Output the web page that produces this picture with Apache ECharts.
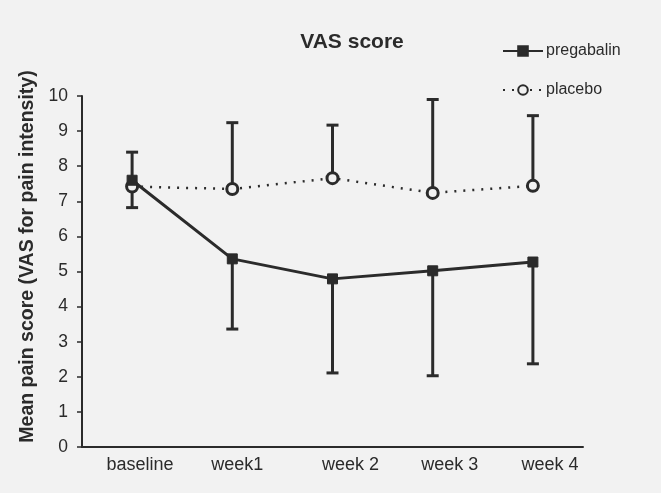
<!DOCTYPE html>
<html>
<head>
<meta charset="utf-8">
<script src="https://cdn.jsdelivr.net/npm/echarts@6/dist/echarts.min.js"></script>
<style>
  html, body { margin: 0; padding: 0; background: #f2f2f2; }
  #chart { width: 661px; height: 493px; }
</style>
</head>
<body>
<div id="chart"></div>
<script>
var weeks = ['baseline', 'week1', 'week 2', 'week 3', 'week 4'];
var pregabalin = [7.6, 5.36, 4.79, 5.02, 5.27];
var placebo = [7.42, 7.35, 7.66, 7.24, 7.44];
// end point of each drawn error bar
var pregabalinBarEnd = [8.4, 3.36, 2.11, 2.03, 2.37];
var placeboBarEnd = [6.82, 9.24, 9.17, 9.9, 9.44];

var ink = '#2b2b2b';
// the scanned labels sit a little right of their points
var labelShift = [16, 10, 36, 34, 34];

function barData(means, ends) {
    return means.map(function (m, i) { return [i, m, ends[i]]; });
}

function renderBar(params, api) {
    var p0 = api.coord([api.value(0), api.value(1)]);
    var p1 = api.coord([api.value(0), api.value(2)]);
    var cap = 6;
    return {
        type: 'group',
        children: [
            { type: 'line', shape: { x1: p0[0], y1: p0[1], x2: p1[0], y2: p1[1] },
              style: { stroke: ink, lineWidth: 3 } },
            { type: 'line', shape: { x1: p1[0] - cap, y1: p1[1], x2: p1[0] + cap, y2: p1[1] },
              style: { stroke: ink, lineWidth: 3 } }
        ]
    };
}

var myChart = echarts.init(document.getElementById('chart'));

var option = {
    backgroundColor: '#f2f2f2',
    animation: false,
    title: {
        text: 'VAS score',
        left: 347,
        textAlign: 'center',
        top: 27,
        textStyle: { fontFamily: 'Liberation Sans', fontWeight: 'bold', fontSize: 21, color: ink }
    },
    legend: {
        orient: 'vertical',
        left: 497,
        top: 38,
        itemWidth: 40,
        itemHeight: 12,
        itemGap: 23,
        data: ['pregabalin', 'placebo'],
        textStyle: { fontFamily: 'Liberation Sans', fontSize: 16, color: ink, padding: [0, 0, 0, -2] }
    },
    grid: { left: 82, right: 78, top: 96, bottom: 46 },
    xAxis: {
        type: 'category',
        data: weeks.map(function (w, i) {
            return { value: w, textStyle: { padding: [0, 0, 0, labelShift[i]] } };
        }),
        boundaryGap: true,
        axisLine: { lineStyle: { color: ink, width: 2 } },
        axisTick: { show: false },
        axisLabel: { fontFamily: 'Liberation Sans', fontSize: 18, color: ink, margin: 9 }
    },
    yAxis: {
        type: 'value',
        min: 0,
        max: 10,
        interval: 1,
        name: 'Mean pain score (VAS for pain intensity)',
        nameLocation: 'middle',
        nameGap: 43,
        nameTextStyle: {
            fontFamily: 'Liberation Sans', fontWeight: 'bold', fontSize: 19.5, color: ink,
            padding: [0, 0, 0, 30]
        },
        axisLine: { show: true, lineStyle: { color: ink, width: 2 } },
        axisTick: { show: true, length: 5, lineStyle: { color: ink, width: 1.5 } },
        splitLine: { show: false },
        axisLabel: { fontFamily: 'Liberation Sans', fontSize: 17.5, color: ink, margin: 14 }
    },
    series: [
        {
            type: 'custom',
            name: 'pregabalinBars',
            renderItem: renderBar,
            data: barData(pregabalin, pregabalinBarEnd),
            z: 1,
            silent: true
        },
        {
            type: 'custom',
            name: 'placeboBars',
            renderItem: renderBar,
            data: barData(placebo, placeboBarEnd),
            z: 1,
            silent: true
        },
        {
            name: 'placebo',
            type: 'line',
            data: placebo,
            symbol: 'circle',
            symbolSize: 11,
            lineStyle: { color: ink, width: 2.5, type: [2, 7] },
            itemStyle: { color: '#f2f2f2', borderColor: ink, borderWidth: 3 },
            z: 3
        },
        {
            name: 'pregabalin',
            type: 'line',
            data: pregabalin,
            symbol: 'rect',
            symbolSize: 10,
            lineStyle: { color: ink, width: 3 },
            itemStyle: { color: ink, borderColor: ink, borderWidth: 1 },
            z: 4
        }
    ]
};

myChart.setOption(option);
</script>
</body>
</html>
